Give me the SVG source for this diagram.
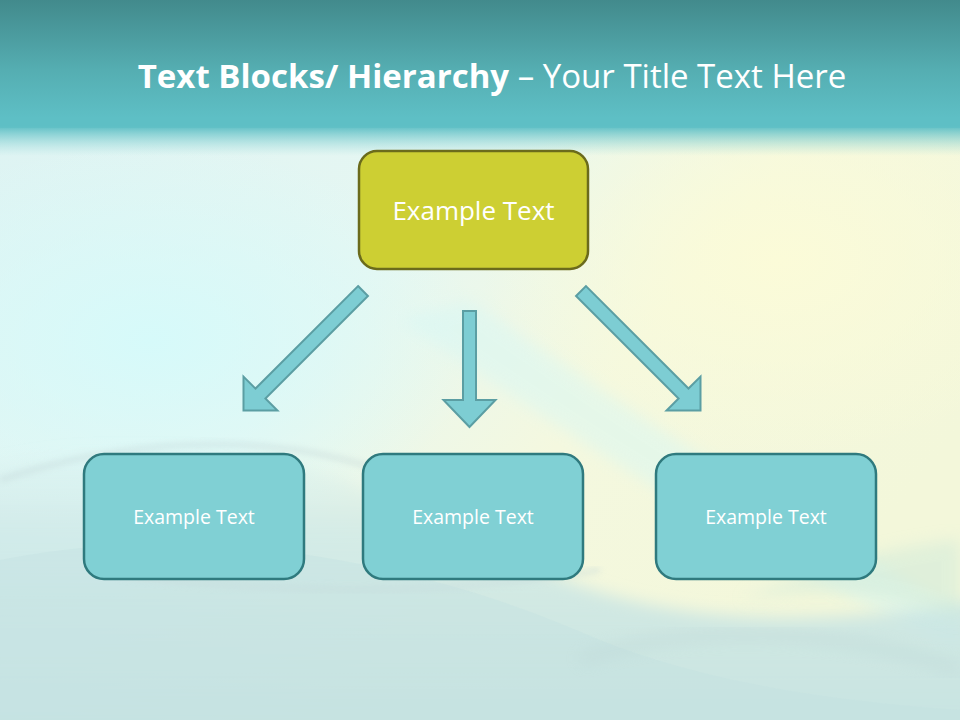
<svg xmlns="http://www.w3.org/2000/svg" width="960" height="720" viewBox="0 0 960 720">
  <defs>
    <linearGradient id="bgBase" x1="0" y1="0" x2="1" y2="0.6">
      <stop offset="0" stop-color="#dcf3f3"/>
      <stop offset="0.45" stop-color="#e6f7f2"/>
      <stop offset="0.7" stop-color="#f4f8df"/>
      <stop offset="1" stop-color="#f3f7da"/>
    </linearGradient>
    <linearGradient id="topBand" x1="0" y1="0" x2="0" y2="1">
      <stop offset="0" stop-color="#428a8c"/>
      <stop offset="0.55" stop-color="#55aeb2"/>
      <stop offset="0.92" stop-color="#5ebfc5"/>
      <stop offset="1" stop-color="#5ebfc5"/>
    </linearGradient>
    <linearGradient id="bandFade" x1="0" y1="0" x2="0" y2="1">
      <stop offset="0" stop-color="#5ebfc5" stop-opacity="1"/>
      <stop offset="1" stop-color="#9fdcdc" stop-opacity="0"/>
    </linearGradient>
    <radialGradient id="cyanGlow" cx="0.5" cy="0.5" r="0.5">
      <stop offset="0" stop-color="#d6fafa" stop-opacity="1"/>
      <stop offset="1" stop-color="#d6fafa" stop-opacity="0"/>
    </radialGradient>
    <radialGradient id="yellowGlow" cx="0.5" cy="0.5" r="0.5">
      <stop offset="0" stop-color="#fbfbd8" stop-opacity="1"/>
      <stop offset="1" stop-color="#fbfbd8" stop-opacity="0"/>
    </radialGradient>
    <linearGradient id="lowerShade" x1="0" y1="0" x2="0" y2="1">
      <stop offset="0" stop-color="#c9e6e6" stop-opacity="0"/>
      <stop offset="0.3" stop-color="#c9e6e6" stop-opacity="0.7"/>
      <stop offset="1" stop-color="#c4e2e2" stop-opacity="0.95"/>
    </linearGradient>
    <filter id="blur8" x="-20%" y="-20%" width="140%" height="140%">
      <feGaussianBlur stdDeviation="8"/>
    </filter>
    <filter id="blur3" x="-20%" y="-20%" width="140%" height="140%">
      <feGaussianBlur stdDeviation="3"/>
    </filter>
    <style>
      .arrow { fill: #7dcdd3; stroke: #5b9ea3; stroke-width: 2; stroke-linejoin: miter; }
      .top-box { fill: #cdcf33; stroke: #6b6b1c; stroke-width: 2.5; }
      .child-box { fill: #80d0d4; stroke: #2f7a7e; stroke-width: 2.5; }
      .label { font-family: "Open Sans", "Noto Sans", sans-serif; fill: #ffffff; text-anchor: middle; }
      .title { font-family: "Open Sans", "Noto Sans", sans-serif; fill: #ffffff; font-size: 33px; text-anchor: middle; }
    </style>
  </defs>

  <!-- background -->
  <rect x="0" y="0" width="960" height="720" fill="url(#bgBase)"/>
  <ellipse cx="150" cy="340" rx="330" ry="200" fill="url(#cyanGlow)"/>
  <ellipse cx="780" cy="260" rx="300" ry="200" fill="url(#yellowGlow)"/>
  <!-- diagonal bright streak -->
  <path d="M400 320 C 520 400, 700 530, 960 650 L 960 610 C 760 500, 600 390, 470 300 Z" fill="#d4f7f6" opacity="0.45" filter="url(#blur8)"/>
  <!-- lower teal shade -->
  <path d="M-20 470 C 150 420, 330 450, 520 560 C 650 625, 800 630, 980 600 L 980 740 L -20 740 Z" fill="url(#lowerShade)" filter="url(#blur8)"/>
  <path d="M0 560 C 200 520, 420 560, 600 640 C 700 680, 820 700, 960 710 L 960 720 L 0 720 Z" fill="#c4e1e2" opacity="0.4"/>
  <!-- grey wave arcs -->
  <path d="M0 480 C 120 440, 260 430, 380 470" fill="none" stroke="#bccfd0" stroke-width="5" opacity="0.4" filter="url(#blur3)"/>
  <path d="M120 575 C 250 590, 420 600, 600 570" fill="none" stroke="#c6dadb" stroke-width="5" opacity="0.5" filter="url(#blur3)"/>
  <path d="M580 660 C 700 620, 840 630, 960 670" fill="none" stroke="#b9d2d3" stroke-width="10" opacity="0.4" filter="url(#blur8)"/>
  <path d="M740 600 C 840 580, 910 600, 960 620 L 960 540 C 900 545, 820 565, 740 600 Z" fill="#cde9da" opacity="0.5" filter="url(#blur8)"/>

  <!-- title band -->
  <rect x="0" y="0" width="960" height="128" fill="url(#topBand)"/>
  <rect x="0" y="126" width="960" height="30" fill="url(#bandFade)"/>

  <!-- title -->
  <text class="title" x="492" y="88"><tspan font-weight="bold">Text Blocks/ Hierarchy</tspan> – Your Title Text Here</text>

  <!-- connectors -->
  <g id="connectors">
    <path class="arrow" transform="translate(363 291) rotate(45)" d="M-7 0 L7 0 L7 145 L24 145 L0 169 L-24 145 L-7 145 Z"/>
    <path class="arrow" transform="translate(469.5 311)" d="M-6.5 0 L6.5 0 L6.5 89 L26 89 L0 116 L-26 89 L-6.5 89 Z"/>
    <path class="arrow" transform="translate(581 291) rotate(-45)" d="M-7 0 L7 0 L7 145 L24 145 L0 169 L-24 145 L-7 145 Z"/>
  </g>

  <!-- nodes -->
  <g id="node-top">
    <rect class="top-box" x="359" y="151" width="229" height="118" rx="18" ry="18"/>
    <text class="label" x="473.5" y="220" font-size="26">Example Text</text>
  </g>
  <g id="node-left">
    <rect class="child-box" x="84" y="454" width="220" height="125" rx="20" ry="20"/>
    <text class="label" x="194" y="524" font-size="19.5">Example Text</text>
  </g>
  <g id="node-middle">
    <rect class="child-box" x="363" y="454" width="220" height="125" rx="20" ry="20"/>
    <text class="label" x="473" y="524" font-size="19.5">Example Text</text>
  </g>
  <g id="node-right">
    <rect class="child-box" x="656" y="454" width="220" height="125" rx="20" ry="20"/>
    <text class="label" x="766" y="524" font-size="19.5">Example Text</text>
  </g>
</svg>
